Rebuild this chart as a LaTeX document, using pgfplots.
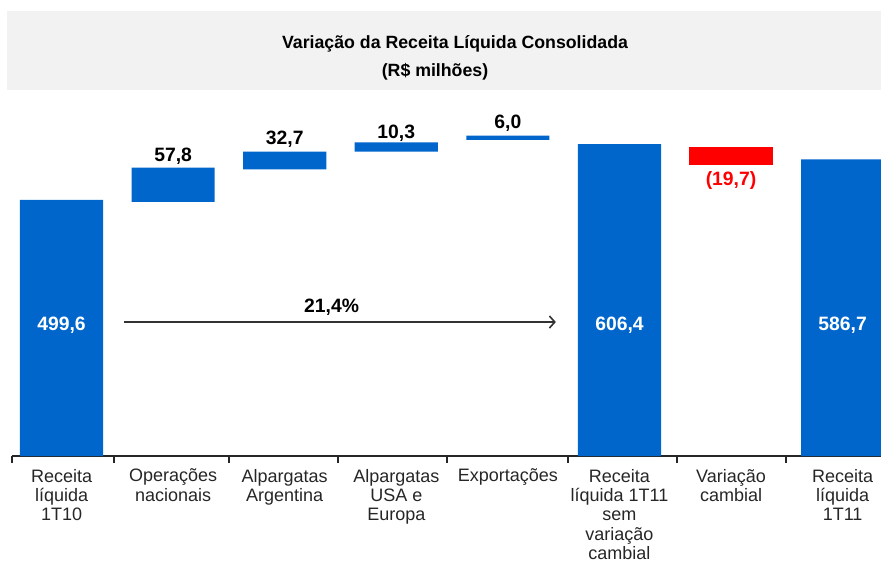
\documentclass[border=0pt]{standalone}
\usepackage{pgfplots}
\pgfplotsset{compat=1.18}
\usepackage{fontspec}
\setmainfont{Liberation Sans}
\usetikzlibrary{arrows.meta}
\definecolor{barblue}{RGB}{0,102,204}
\definecolor{barred}{RGB}{255,0,0}
\definecolor{titlegray}{RGB}{242,242,242}
\definecolor{axisgray}{RGB}{38,38,38}
\definecolor{arrowgray}{RGB}{50,50,50}
\tikzset{vlab/.style={anchor=base, font=\fontsize{14.5}{17}\selectfont\bfseries}}
\begin{document}
\begin{tikzpicture}[x=1pt,y=1pt]
\useasboundingbox (-9,-81) rectangle (651.75,342);
\fill[titlegray] (-4,274.5) rectangle (660,334);
\node[anchor=base,font=\fontsize{13.3}{16}\selectfont\bfseries] at (332.25,305.8) {Variação da Receita Líquida Consolidada};
\node[anchor=base,font=\fontsize{13.3}{16}\selectfont\bfseries] at (317.25,284.5) {(R\$ milhões)};
\begin{axis}[
  at={(0,0)}, anchor=south west,
  scale only axis, width=651.75pt, height=342pt,
  xmin=-0.444, xmax=7.344, ymin=0, ymax=886.3,
  axis x line=bottom, axis y line=none,
  x axis line style={-, line width=1.6pt, draw=axisgray},
  xtick={0,1,2,3,4,5,6,7},
  xticklabels={Receita\\líquida\\1T10, Operações\\nacionais, Alpargatas\\Argentina, Alpargatas\\USA e\\Europa, Exportações, Receita\\líquida 1T11\\sem\\variação\\cambial, Variação\\cambial, Receita\\líquida\\1T11},
  major tick length=0pt,
  minor xtick={-0.444,0.470,1.501,2.478,3.454,4.539,5.515,6.492},
  minor tick length=5.25pt,
  tick align=outside,
  minor x tick style={line width=1.5pt, draw=axisgray},
  xticklabel style={align=center, font=\fontsize{13.5}{14.6}\selectfont, text=axisgray, yshift=-6.2pt},
  ytick=\empty,
  clip=false,
  ybar stacked, bar width=0.745,
]
\addplot[fill=none, draw=none] coordinates {(0,0) (1,493.7) (2,557.2) (3,591.4) (4,614.2) (5,0) (6,566.2) (7,0)};
\addplot[fill=barblue, draw=none] coordinates {(0,497.6) (1,66.6) (2,34.2) (3,18.3) (4,8.3) (5,606.4) (6,0) (7,576.7)};
\addplot[fill=barred, draw=none] coordinates {(0,0) (1,0) (2,0) (3,0) (4,0) (5,0) (6,35.0) (7,0)};
\coordinate (L1) at (axis cs:1,572.0);
\coordinate (L2) at (axis cs:2,605.8);
\coordinate (L3) at (axis cs:3,617.5);
\coordinate (L4) at (axis cs:4,636.9);
\coordinate (L6) at (axis cs:6,525.4);
\coordinate (L0) at (axis cs:0,243.5);
\coordinate (L5) at (axis cs:5,243.5);
\coordinate (L7) at (axis cs:7,243.5);
\coordinate (LP) at (axis cs:2.42,279.3);
\coordinate (A0) at (axis cs:0.56,260.4);
\coordinate (A1) at (axis cs:4.43,260.4);
\end{axis}
\node[vlab] at (L1) {57,8};
\node[vlab] at (L2) {32,7};
\node[vlab] at (L3) {10,3};
\node[vlab] at (L4) {6,0};
\node[vlab, text=barred] at (L6) {(19,7)};
\node[vlab, text=white] at (L0) {499,6};
\node[vlab, text=white] at (L5) {606,4};
\node[vlab, text=white] at (L7) {586,7};
\node[vlab] at (LP) {21,4\%};
\draw[arrowgray, line width=1.2pt, -{Straight Barb[length=4pt,width=9pt]}] (A0) -- (A1);
\end{tikzpicture}
\end{document}
